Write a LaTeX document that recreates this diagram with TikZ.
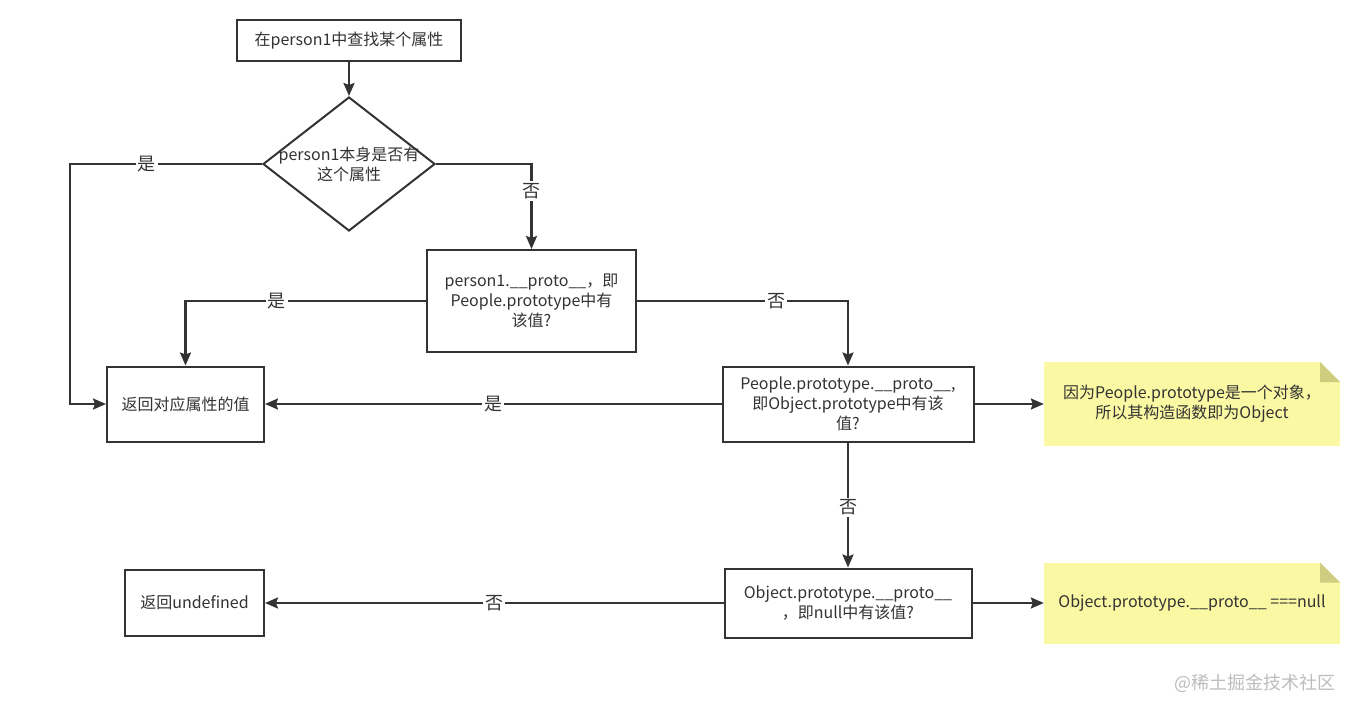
\documentclass[tikz,border=0pt]{standalone}
\usepackage{fontspec}
\newfontfamily\cjk{Noto Sans CJK SC}
\usepackage{tikz}
\usetikzlibrary{shapes.geometric,arrows.meta}
\definecolor{linegray}{HTML}{333333}
\definecolor{notefill}{HTML}{FAF8A3}
\definecolor{notefold}{HTML}{CFCD80}
\definecolor{markgray}{HTML}{BDBDBD}

\begin{document}
\begin{tikzpicture}[x=1pt,y=-1pt,
  every node/.style={font=\cjk\fontsize{16}{20}\selectfont,text=linegray},
  box/.style={draw=linegray,line width=2pt,inner sep=0pt,align=center},
  dec/.style={diamond,draw=linegray,line width=2pt,inner sep=0pt,minimum width=172pt,minimum height=134pt},
  note/.style={fill=notefill,inner sep=0pt,align=center,minimum width=296pt,
    path picture={
      \fill[white] ([xshift=-20pt]path picture bounding box.north east)--(path picture bounding box.north east)--([yshift=-20pt]path picture bounding box.north east)--cycle;
      \fill[notefold] ([xshift=-20pt]path picture bounding box.north east)--([xshift=-20pt,yshift=-20pt]path picture bounding box.north east)--([yshift=-20pt]path picture bounding box.north east)--cycle;}},
  flow/.style={draw=linegray,line width=2.2pt,-{Stealth[length=13pt,width=11pt,inset=2pt]}},
  lbl/.style={fill=white,inner sep=2pt,font=\cjk\fontsize{18}{20}\selectfont}]
\useasboundingbox (0,0) rectangle (1355,713);
\fill[white] (0,0) rectangle (1355,713);

% boxes
\node[box,minimum width=224pt,minimum height=41pt] (top) at (349,40.5) {在person1中查找某个属性};
\node[dec,label={[align=center]center:person1本身是否有\\这个属性}] (dia) at (349,164) {};
\node[box,minimum width=209pt,minimum height=102pt] (proto) at (531.5,301) {person1.\_\_proto\_\_，即\\People.prototype中有\\该值?};
\node[box,minimum width=157pt,minimum height=75pt] (ret) at (185.5,404) {返回对应属性的值};
\node[box,minimum width=251pt,minimum height=75pt] (people) at (848,404) {People.prototype.\_\_proto\_\_,\\即Object.prototype中有该\\值?};
\node[box,minimum width=247pt,minimum height=69pt] (obj) at (848,603) {Object.prototype.\_\_proto\_\_\\，即null中有该值?};
\node[box,minimum width=139pt,minimum height=66pt] (undef) at (194.5,603) {返回undefined};

% notes
\node[note,minimum height=84pt] (note1) at (1192,404) {因为People.prototype是一个对象，\\所以其构造函数即为Object};
\node[note,minimum height=81pt] (note2) at (1192,603) {Object.prototype.\_\_proto\_\_ ===null};

\coordinate (lft) at (70,164);

% connectors
\draw[flow] (top) -- (dia);
\draw[flow] (dia.west) -- node[lbl,pos=0.6]{是} (lft) |- (ret.west);
\draw[flow] (dia.east) -| node[lbl,pos=0.66]{否} (proto.north);
\draw[flow] (proto.west) -| node[lbl,pos=0.31]{是} (ret.north);
\draw[flow] (proto.east) -| node[lbl,pos=0.33]{否} (people.north);
\draw[flow] (people.west) -- node[lbl]{是} (ret.east);
\draw[flow] (people.east) -- (note1.west);
\draw[flow] (people.south) -- node[lbl,pos=0.52]{否} (obj.north);
\draw[flow] (obj.west) -- node[lbl]{否} (undef.east);
\draw[flow] (obj.east) -- (note2.west);

\node[text=markgray,font=\cjk\fontsize{18}{20}\selectfont] (mark) at (1255,683) {@稀土掘金技术社区};
\end{tikzpicture}
\end{document}
